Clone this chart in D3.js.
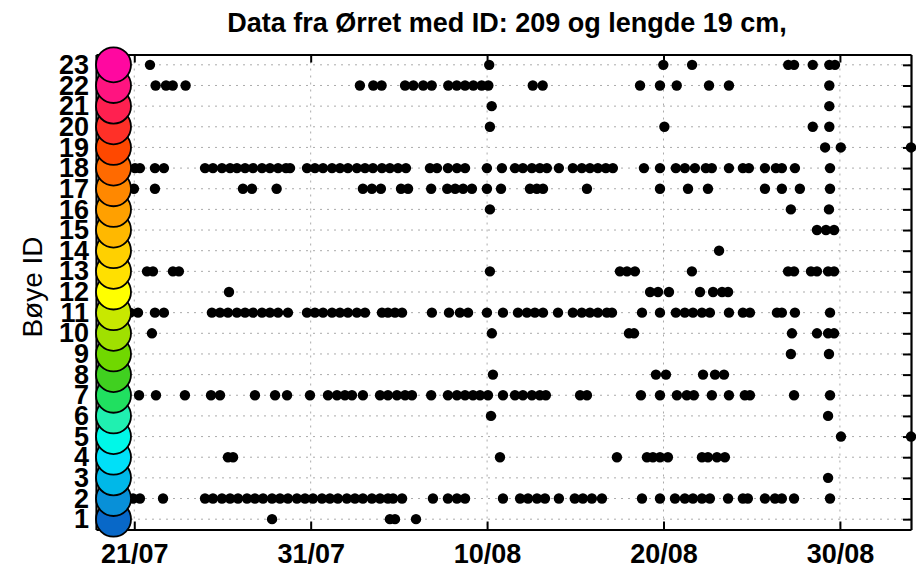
<!DOCTYPE html>
<html>
<head>
<meta charset="utf-8">
<script src="https://cdn.jsdelivr.net/npm/d3@7"></script>
<style>
  html, body { margin: 0; padding: 0; background: #fff; }
  svg { display: block; font-family: "Liberation Sans", Arial, Helvetica, sans-serif; }
</style>
</head>
<body>
<svg id="chart" width="916" height="572"></svg>
<script>
// ---- Data: detection times in days after 21/07 (00:00), per buoy ----
const titleText = "Data fra Ørret med ID: 209 og lengde 19 cm,";
const yLabel = "Bøye ID";
const buoyIds = d3.range(1, 24);
const tickDays = [0, 10, 20, 30, 40];
const tickLabels = ["21/07", "31/07", "10/08", "20/08", "30/08"];
const buoyColors = ["#0868c8", "#0890d8", "#00b8e8", "#00e0f8", "#00f8e8", "#20f0b0", "#20e060", "#40d020",
  "#70d800", "#a0e000", "#c8e800", "#ffff00", "#ffe000", "#ffd000", "#ffb800", "#ffa000", "#ff8800",
  "#ff6a00", "#ff4800", "#ff3028", "#ff2050", "#ff1480", "#ff08a0"];

const b1 = [7.81, 14.49, 14.78, 15.97];
const b2 = [-0.07, 0.32, 1.63, 4.01, 4.46, 4.97, 5.43, 5.88, 6.39, 6.84, 7.30, 7.81, 8.26, 8.71, 9.22, 9.68, 10.13,
  10.64, 11.09, 11.54, 12.05, 12.51, 12.96, 13.47, 13.93, 14.38, 14.67, 15.18, 16.93, 17.78, 18.29, 18.75, 20.90,
  21.87, 22.32, 22.83, 23.28, 24.07, 24.97, 25.43, 25.94, 26.51, 28.78, 29.80, 30.65, 31.21, 31.67, 32.18, 32.63,
  33.66, 34.50, 34.78, 35.75, 36.32, 36.71, 37.40, 39.44];
const b3 = [39.33];
const b4 = [5.31, 5.60, 20.73, 27.36, 29.06, 29.40, 29.80, 30.25, 32.18, 32.52, 33.03, 33.48];
const b5 = [40.06, 44.03];
const b6 = [20.22, 39.33];
const b7 = [0.27, 1.23, 2.87, 4.35, 4.86, 6.84, 7.98, 8.66, 9.96, 10.98, 11.49, 11.94, 12.34, 12.96, 13.93, 14.38,
  14.89, 15.35, 15.74, 16.83, 17.78, 18.29, 18.75, 19.20, 19.60, 20.05, 20.90, 21.58, 22.03, 22.54, 22.99, 23.33,
  25.27, 25.66, 28.72, 29.80, 30.76, 31.32, 31.72, 32.74, 33.71, 34.61, 34.90, 37.40, 39.44];
const b8 = [20.33, 29.57, 30.14, 32.24, 32.92, 33.43];
const b9 = [37.22, 39.38];
const b10 = [1.00, 20.27, 28.04, 28.33, 37.28, 38.70, 39.33, 39.67];
const b11 = [-0.24, 0.21, 1.17, 1.68, 4.40, 4.86, 5.31, 5.82, 6.28, 6.73, 7.24, 7.69, 8.15, 8.71, 9.79, 10.24, 10.70,
  11.21, 11.66, 12.11, 12.62, 13.08, 14.04, 14.38, 14.78, 15.18, 16.87, 17.84, 18.46, 18.92, 19.99, 20.90, 21.75,
  22.26, 22.71, 23.17, 24.02, 24.86, 25.37, 25.83, 26.28, 26.79, 27.08, 28.78, 29.80, 30.70, 31.21, 31.67, 32.18,
  32.63, 33.71, 34.50, 34.90, 36.43, 36.71, 37.45, 39.44];
const b12 = [5.37, 29.24, 29.69, 30.31, 32.07, 32.81, 33.32, 33.66];
const b13 = [0.72, 1.06, 2.19, 2.53, 20.16, 27.53, 27.93, 28.38, 31.61, 37.06, 37.40, 38.36, 38.70, 39.33, 39.67];
const b14 = [33.15];
const b15 = [38.70, 39.21, 39.67];
const b16 = [20.16, 37.22, 39.38];
const b17 = [-0.02, 1.17, 6.16, 6.67, 8.07, 12.96, 13.47, 13.98, 15.12, 15.52, 16.83, 17.74, 18.19, 18.64, 19.14,
  19.99, 20.79, 22.43, 22.82, 23.17, 25.66, 29.80, 31.39, 32.52, 35.75, 36.71, 37.73, 39.44];
const b18 = [0.04, 0.32, 1.17, 1.68, 4.01, 4.46, 4.97, 5.43, 5.82, 6.28, 6.73, 7.24, 7.69, 8.15, 8.60, 8.83, 9.79,
  10.24, 10.70, 11.21, 11.66, 12.11, 12.62, 13.08, 13.53, 14.04, 14.49, 14.95, 15.40, 16.76, 17.16, 17.78, 18.29,
  18.75, 19.99, 20.84, 21.58, 22.03, 22.54, 22.99, 23.39, 24.07, 24.86, 25.37, 25.83, 26.28, 26.73, 27.13, 28.89,
  29.80, 30.70, 31.21, 31.78, 32.40, 32.74, 33.71, 34.50, 34.84, 35.75, 36.37, 36.71, 37.45, 39.44];
const b19 = [39.16, 40.05, 44.03];
const b20 = [20.16, 30.05, 38.46, 39.40];
const b21 = [20.26, 39.40];
const b22 = [1.21, 1.80, 2.18, 2.91, 12.79, 13.55, 14.02, 15.35, 15.82, 16.38, 16.86, 17.80, 18.28, 18.75, 19.22,
  19.69, 20.07, 22.59, 23.15, 28.67, 29.80, 30.75, 32.58, 33.71, 39.40];
const b23 = [0.89, 20.12, 29.99, 31.62, 37.07, 37.40, 38.46, 39.40, 39.72];

const detections = [b1, b2, b3, b4, b5, b6, b7, b8, b9, b10, b11, b12, b13, b14, b15, b16, b17, b18, b19, b20, b21, b22, b23];
const points = [];
detections.forEach((arr, i) => arr.forEach(d => points.push({ buoy: buoyIds[i], day: d })));

// ---- Layout ----
const svg = d3.select("#chart");
const L = 96, R = 911, T = 54.5, B = 529.5;
const x = d3.scaleLinear().domain([-2.17, 44.03]).range([L, R]);
const y = d3.scaleLinear().domain([0.5, 23.5]).range([B, T]);

// grid
const grid = svg.append("g").attr("stroke", "#ababab").attr("stroke-width", 1).attr("stroke-dasharray", "2,5");
grid.selectAll("line.h").data(buoyIds).join("line")
  .attr("x1", L).attr("x2", R).attr("y1", d => y(d)).attr("y2", d => y(d));
grid.selectAll("line.v").data(tickDays).join("line")
  .attr("x1", d => x(d)).attr("x2", d => x(d)).attr("y1", T).attr("y2", B);

// axes
const axB = svg.append("g").attr("transform", `translate(0,${B})`)
  .call(d3.axisBottom(x).tickValues(tickDays).tickFormat((d, i) => tickLabels[i]).tickSizeInner(-8).tickSizeOuter(0).tickPadding(14));
const axT = svg.append("g").attr("transform", `translate(0,${T})`)
  .call(d3.axisTop(x).tickValues(tickDays).tickFormat("").tickSizeInner(-8).tickSizeOuter(0));
const axR = svg.append("g").attr("transform", `translate(${R},0)`)
  .call(d3.axisRight(y).tickValues(buoyIds).tickFormat("").tickSizeInner(-8).tickSizeOuter(0));
const axL = svg.append("g").attr("transform", `translate(${L},0)`)
  .call(d3.axisLeft(y).tickValues(buoyIds).tickSizeInner(0).tickSizeOuter(0).tickPadding(7));
[axB, axT, axR, axL].forEach(a => {
  a.select(".domain").attr("stroke", "#000").attr("stroke-width", 2.2);
  a.selectAll(".tick line").attr("stroke", "#000").attr("stroke-width", 2);
  a.selectAll("text").attr("fill", "#000").style("font-family", '"Liberation Sans", Arial, sans-serif')
    .style("font-weight", "bold").style("font-size", "27px");
});

// detections
svg.append("g").selectAll("circle").data(points).join("circle")
  .attr("cx", d => x(d.day)).attr("cy", d => y(d.buoy)).attr("r", 5.2).attr("fill", "#000");

// buoy colour markers
svg.append("g").selectAll("circle").data(buoyIds).join("circle")
  .attr("cx", 113.5).attr("cy", d => y(d)).attr("r", 17.5)
  .attr("fill", (d, i) => buoyColors[i]).attr("stroke", "#000").attr("stroke-width", 1.8);

// title
svg.append("text").attr("x", 507).attr("y", 32).attr("text-anchor", "middle")
  .style("font-size", "27px").style("font-weight", "bold").text(titleText);

// y label
svg.append("text").attr("transform", "translate(42,287) rotate(-90)").attr("text-anchor", "middle")
  .style("font-size", "28px").text(yLabel);
</script>
</body>
</html>
